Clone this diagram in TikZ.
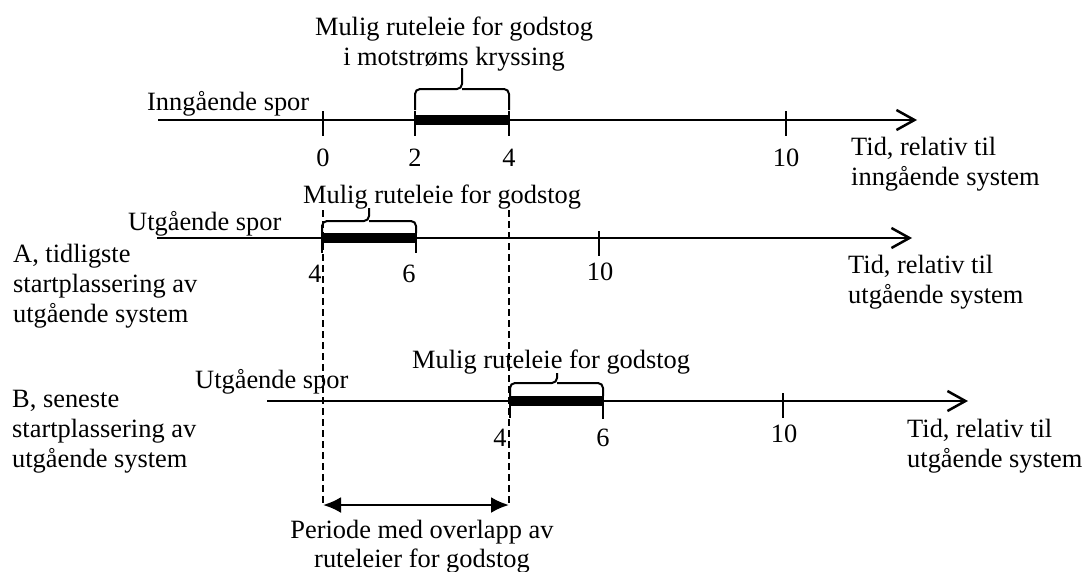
\documentclass[tikz,border=0pt]{standalone}
\usepackage{fontspec}
\setmainfont{Liberation Serif}
\usetikzlibrary{arrows.meta}
\newcommand\labfont{\fontsize{26.4}{30}\selectfont}
\tikzset{
  lbl/.style={inner sep=0pt, anchor=base west},
  ctr/.style={inner sep=0pt, anchor=base},
  axis/.style={line width=2.5pt, -{Straight Barb[length=18pt,width=20pt]}},
  tick/.style={line width=2pt},
  bar/.style={line width=10pt},
  bracestyle/.style={line width=2pt, rounded corners=5pt},
  guide/.style={line width=1.5pt, dash pattern=on 7pt off 4pt},
  span/.style={line width=2.5pt, {Latex[length=18pt,width=16pt]}-{Latex[length=18pt,width=16pt]}}
}
\begin{document}
\begin{tikzpicture}[x=1pt, y=-1pt, font=\labfont]
\useasboundingbox (0,0) rectangle (1084,571);

% ---------- Row 1: inngaaende
\coordinate (a1s) at (158,120);
\coordinate (a1e) at (917,120);
\draw[axis] (a1s) -- (a1e);
\foreach \x in {323,415,509,786} \draw[tick] (\x,111) -- (\x,136);
\coordinate (b1s) at (415,120); \coordinate (b1e) at (509,120);
\draw[bar] (b1s) -- (b1e);
\draw[bracestyle] (415,110) -- (415,89) -- (462,89) -- (462,68);
\draw[bracestyle] (509,110) -- (509,89) -- (462,89);
\node[ctr] (n10) at (323,166) {0};
\node[ctr] (n12) at (415,166) {2};
\node[ctr] (n14) at (509,166) {4};
\node[ctr] (n110) at (786,166) {10};
\node[ctr] (m1a) at (454,35) {Mulig ruteleie for godstog};
\node[ctr] (m1b) at (454,65) {i motstrøms kryssing};
\node[lbl] (inn) at (147,110) {Inngående spor};
\node[lbl] (t1a) at (851,155) {Tid, relativ til};
\node[lbl] (t1b) at (851,185) {inngående system};

% ---------- dashed guides and overlap arrow
\coordinate (dlt) at (323,210); \coordinate (dlb) at (323,505);
\coordinate (drt) at (509,210); \coordinate (drb) at (509,505);
\draw[guide] (dlt) -- (dlb);
\draw[guide] (drt) -- (drb);
\draw[span] (dlb) -- (drb);
\node[ctr] (p1) at (422,538) {Periode med overlapp av};
\node[ctr] (p2) at (422,567) {ruteleier for godstog};

% ---------- Row 2: A
\coordinate (a2s) at (157,238);
\coordinate (a2e) at (912,238);
\draw[axis] (a2s) -- (a2e);
\draw[tick] (322,225) -- (322,253);
\draw[tick] (416,228) -- (416,253);
\draw[tick] (599,231) -- (599,256);
\coordinate (b2s) at (322,238); \coordinate (b2e) at (416,238);
\draw[bar] (b2s) -- (b2e);
\draw[bracestyle] (322,233) -- (322,221) -- (369,221) -- (369,208);
\draw[bracestyle] (416,233) -- (416,221) -- (369,221);
\node[ctr] (n24) at (315,282) {4};
\node[ctr] (n26) at (409,282) {6};
\node[ctr] (n210) at (600,280) {10};
\node[lbl] (m2) at (303,203) {Mulig ruteleie for godstog};
\node[lbl] (utg2) at (128,230) {Utgående spor};
\node[lbl] (A1) at (13,262) {A, tidligste};
\node[lbl] (A2) at (13,292) {startplassering av};
\node[lbl] (A3) at (13,322) {utgående system};
\node[lbl] (t2a) at (848,273) {Tid, relativ til};
\node[lbl] (t2b) at (848,303) {utgående system};

% ---------- Row 3: B
\coordinate (a3s) at (267,401);
\coordinate (a3e) at (968,401);
\draw[axis] (a3s) -- (a3e);
\draw[tick] (510,393) -- (510,418);
\draw[tick] (603,393) -- (603,419);
\draw[tick] (783,393) -- (783,418);
\coordinate (b3s) at (510,401); \coordinate (b3e) at (603,401);
\draw[bar] (b3s) -- (b3e);
\draw[bracestyle] (510,396) -- (510,383) -- (557,383) -- (557,373);
\draw[bracestyle] (603,396) -- (603,383) -- (557,383);
\node[ctr] (n34) at (500,446) {4};
\node[ctr] (n36) at (603,446) {6};
\node[ctr] (n310) at (784,442) {10};
\node[lbl] (m3) at (412,368) {Mulig ruteleie for godstog};
\node[lbl] (utg3) at (195,388) {Utgående spor};
\node[lbl] (B1) at (12,407) {B, seneste};
\node[lbl] (B2) at (12,437) {startplassering av};
\node[lbl] (B3) at (12,467) {utgående system};
\node[lbl] (t3a) at (907,437) {Tid, relativ til};
\node[lbl] (t3b) at (907,467) {utgående system};
\end{tikzpicture}
\end{document}
